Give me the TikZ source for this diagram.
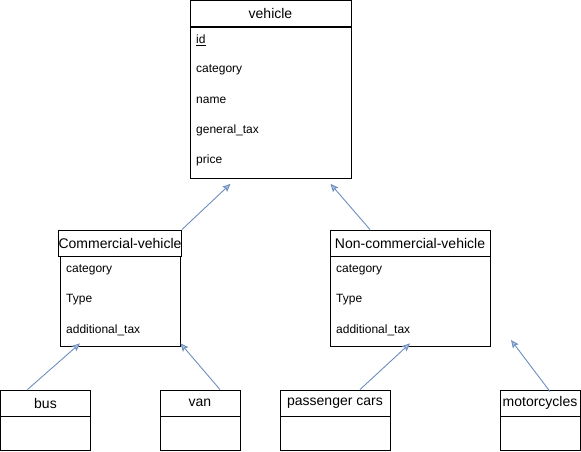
\documentclass[tikz,border=0pt]{standalone}
\usepackage{fontspec}
\setmainfont{Liberation Sans}
\usetikzlibrary{arrows.meta, calc, positioning}
\definecolor{arrowblue}{HTML}{6C8EBF}
\tikzset{
    classhead/.style={draw, line width=0.9pt, minimum height=26pt, inner sep=0pt, font=\fontsize{14}{16}\selectfont},
    classbody/.style={draw, line width=0.9pt, inner sep=0pt},
    field/.style={anchor=west, inner sep=0pt, font=\fontsize{12}{14}\selectfont},
    inherit/.style={draw=arrowblue, line width=0.9pt, -{Stealth[length=8pt, width=7pt, inset=1.5pt, fill=arrowblue!55]}}
}

\begin{document}
\begin{tikzpicture}[x=1pt, y=-1pt]
    \useasboundingbox (0,0) rectangle (581,451);
    % superclass
    \node[classhead, minimum width=161pt] (vh) at (270.5,13.5) {vehicle};
    \node[classbody, minimum width=161pt, minimum height=151pt, below=0pt of vh] (vb) {};
    \node[field] (v1) at (196,40) {\underline{id}};
    \node[field] (v2) at (196,70) {category};
    \node[field] (v3) at (196,100) {name};
    \node[field] (v4) at (196,130) {general\_tax};
    \node[field] (v5) at (196,160) {price};
    % subclasses
    \node[classhead, minimum width=120pt] (ch) at (120,243) {Commercial-vehicle};
    \node[classbody, minimum width=120pt, minimum height=90pt, below=0pt of ch] (cb) {};
    \node[field] (c1) at (66,270) {category};
    \node[field] (c2) at (66,300) {Type};
    \node[field] (c3) at (66,330) {additional\_tax};
    \node[classhead, minimum width=160pt] (nh) at (410,243) {Non-commercial-vehicle};
    \node[classbody, minimum width=160pt, minimum height=90pt, below=0pt of nh] (nb) {};
    \node[field] (n1) at (336,270) {category};
    \node[field] (n2) at (336,300) {Type};
    \node[field] (n3) at (336,330) {additional\_tax};
    % leaves
    \node[classhead, minimum width=90pt] (bh) at (45.5,403) {bus};
    \node[classbody, minimum width=90pt, minimum height=34pt, below=0pt of bh] (bb) {};
    \node[classhead, minimum width=80pt] (vnh) at (200,403) {van};
    \node[classbody, minimum width=80pt, minimum height=34pt, below=0pt of vnh] (vnb) {};
    \node[classhead, minimum width=110pt] (ph) at (335,403) {passenger cars};
    \node[classbody, minimum width=110pt, minimum height=34pt, below=0pt of ph] (pb) {};
    \node[classhead, minimum width=80pt] (mh) at (540,403) {motorcycles};
    \node[classbody, minimum width=80pt, minimum height=34pt, below=0pt of mh] (mb) {};
    % arrow ends
    \coordinate (t1) at ($(vb.south)+(-40,5)$);
    \coordinate (t2) at ($(vb.south)+(60,5)$);
    \coordinate (t3) at ($(cb.south)+(-40,-4)$);
    \coordinate (t4) at ($(cb.south east)+(0,-4)$);
    \coordinate (t5) at ($(nb.south)+(0,-4)$);
    \coordinate (t6) at (511,340);
    \draw[inherit] (ch.north east) -- (t1);
    \draw[inherit] ($(nh.north)+(-40,0)$) -- (t2);
    \draw[inherit] ($(bh.north)+(-18,0)$) -- (t3);
    \draw[inherit] ($(vnh.north)+(20,0)$) -- (t4);
    \draw[inherit] ($(ph.north)+(25,0)$) -- (t5);
    \draw[inherit] ($(mh.north)+(10,2)$) -- (t6);
\end{tikzpicture}
\end{document}
